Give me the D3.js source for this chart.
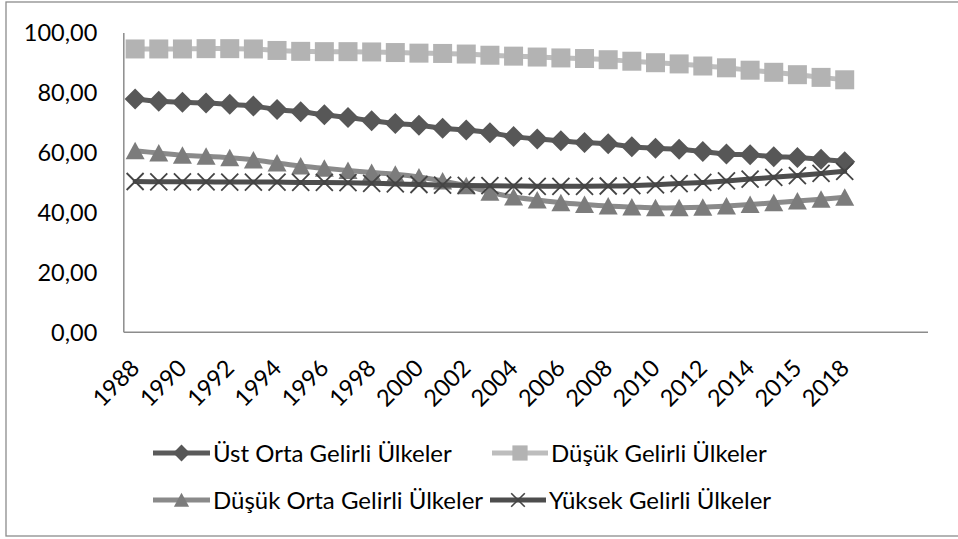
<!DOCTYPE html>
<html>
<head>
<meta charset="utf-8">
<script src="https://cdn.jsdelivr.net/npm/d3@7"></script>
<style>
  body { margin: 0; background: #fff; }
  text { font-family: Lato, "Open Sans", sans-serif; fill: #000; }
</style>
</head>
<body>
<svg id="grafik" width="958" height="539"></svg>
<script>
/* global d3 */
// yillar (grafikteki etiketler, 29. kategori kaynakta "2015" yazilmis)
var yillar = ["1988","1989","1990","1991","1992","1993","1994","1995","1996","1997",
              "1998","1999","2000","2001","2002","2003","2004","2005","2006","2007",
              "2008","2009","2010","2011","2012","2013","2014","2015","2015","2017","2018"];
// excel tablosundaki bos satirlar
var bosKategoriler = ["", "", ""];

var seriAdlari = ["Üst Orta Gelirli Ülkeler", "Düşük Gelirli Ülkeler",
                  "Düşük Orta Gelirli Ülkeler", "Yüksek Gelirli Ülkeler"];

var ustOrta = [77.8, 77.0, 76.7, 76.4, 76.0, 75.4, 74.3, 73.5, 72.5, 71.6,
               70.5, 69.6, 69.0, 68.0, 67.4, 66.5, 65.2, 64.4, 63.8, 63.2,
               62.8, 61.8, 61.3, 61.0, 60.2, 59.4, 59.1, 58.5, 58.2, 57.6, 56.8];
var dusuk = [94.5, 94.5, 94.5, 94.6, 94.6, 94.5, 94.0, 93.7, 93.6, 93.6,
             93.5, 93.3, 93.1, 93.0, 92.8, 92.4, 92.1, 91.8, 91.5, 91.3,
             90.9, 90.4, 89.9, 89.5, 88.8, 88.2, 87.4, 86.7, 85.9, 85.0, 84.2];
var dusukOrta = [60.5, 59.7, 59.0, 58.6, 58.1, 57.4, 56.4, 55.4, 54.6, 53.9,
                 53.2, 52.6, 51.7, 50.4, 48.8, 46.6, 45.0, 44.0, 43.1, 42.5,
                 42.0, 41.7, 41.4, 41.4, 41.6, 42.0, 42.5, 43.1, 43.7, 44.3, 44.9];
var yuksek = [50.2, 50.1, 50.1, 50.1, 50.0, 50.0, 50.0, 49.9, 49.9, 49.8,
              49.6, 49.4, 49.2, 49.0, 48.9, 48.8, 48.7, 48.6, 48.6, 48.6,
              48.7, 48.8, 49.1, 49.5, 49.9, 50.4, 51.0, 51.6, 52.2, 52.9, 53.6];

var yTikler = [0, 20, 40, 60, 80, 100];

var svg = d3.select("#grafik");

// dis cerceve
svg.append("rect")
  .attr("x", 6).attr("y", 2)
  .attr("width", 1000).attr("height", 534)
  .attr("fill", "none")
  .attr("stroke", "#8c8c8c")
  .attr("stroke-width", 1.3);

var sol = 123.3, sag = 927.5, ust = 32.5, alt = 331.7;

var kategoriler = yillar.concat(bosKategoriler);

var x = d3.scaleBand()
  .domain(d3.range(kategoriler.length))
  .range([sol, sag])
  .padding(0);
var y = d3.scaleLinear().domain([0, 100]).range([alt, ust]);

var trFormat = d3.formatLocale({decimal: ",", thousands: ".", grouping: [3], currency: ["", " TL"]}).format(".2f");

// y ekseni
var yEks = svg.append("g")
  .attr("transform", "translate(" + sol + ",0)")
  .call(d3.axisLeft(y).tickValues(yTikler).tickSize(0).tickPadding(26).tickFormat(trFormat));
yEks.select(".domain").attr("stroke", "#8c8c8c").attr("stroke-width", 1.5);
yEks.selectAll("text")
  .style("font-size", "23.5px")
  .attr("dy", "0.36em");

// x ekseni
var xEks = svg.append("g")
  .attr("transform", "translate(0," + alt + ")")
  .call(d3.axisBottom(x)
    .tickValues(d3.range(0, yillar.length, 2))
    .tickSize(0)
    .tickFormat(function(i) { return kategoriler[i]; }));
xEks.select(".domain").attr("stroke", "#8c8c8c").attr("stroke-width", 1.5);
xEks.selectAll("text")
  .style("font-size", "23.5px")
  .attr("text-anchor", "end")
  .attr("x", 0).attr("y", 0)
  .attr("dy", "0.35em")
  .attr("transform", "translate(0,32) rotate(-45)");

var cx = function(i) { return x(i) + x.bandwidth() / 2; };

var cizgi = d3.line()
  .x(function(d, i) { return cx(i); })
  .y(function(d) { return y(d); })
  .curve(d3.curveCatmullRom.alpha(0.5));

// isaretler
var isaretler = {
  elmas:  function(s) { return "M0," + (-10.5*s) + "L" + (10.5*s) + ",0L0," + (10.5*s) + "L" + (-10.5*s) + ",0Z"; },
  kare:   function(s) { return "M" + (-9.5*s) + "," + (-9.5*s) + "h" + (19*s) + "v" + (19*s) + "h" + (-19*s) + "Z"; },
  ucgen:  function(s) { return "M0," + (-9*s) + "L" + (9.5*s) + "," + (8.5*s) + "L" + (-9.5*s) + "," + (8.5*s) + "Z"; },
  carpi:  function(s) { return "M" + (-8.5*s) + "," + (-8.5*s) + "L" + (8.5*s) + "," + (8.5*s) + "M" + (8.5*s) + "," + (-8.5*s) + "L" + (-8.5*s) + "," + (8.5*s); }
};

var seriler = [
  {ad: seriAdlari[0], veri: ustOrta,   cizgiRenk: "#5a5a5a", isaret: "elmas", dolgu: "#575757", kontur: "none"},
  {ad: seriAdlari[1], veri: dusuk,     cizgiRenk: "#bdbdbd", isaret: "kare",  dolgu: "#b3b3b3", kontur: "none"},
  {ad: seriAdlari[2], veri: dusukOrta, cizgiRenk: "#8a8a8a", isaret: "ucgen", dolgu: "#7c7c7c", kontur: "none"},
  {ad: seriAdlari[3], veri: yuksek,    cizgiRenk: "#4d4d4d", isaret: "carpi", dolgu: "none",    kontur: "#444444"}
];

seriler.forEach(function(s) {
  var g = svg.append("g").attr("class", "seri");
  g.append("path")
    .attr("d", cizgi(s.veri))
    .attr("fill", "none")
    .attr("stroke", s.cizgiRenk)
    .attr("stroke-width", 5)
    .attr("stroke-linecap", "round");
  g.selectAll(".isaret")
    .data(s.veri)
    .enter().append("path")
    .attr("class", "isaret")
    .attr("transform", function(d, i) { return "translate(" + cx(i) + "," + y(d) + ")"; })
    .attr("d", isaretler[s.isaret](1))
    .attr("fill", s.dolgu)
    .attr("stroke", s.kontur)
    .attr("stroke-width", 1.8);
});

// lejant
var lejantYer = [
  {x: 153, y: 453, genislik: 57},
  {x: 492, y: 453, genislik: 56},
  {x: 153, y: 500, genislik: 57},
  {x: 490, y: 500, genislik: 56}
];

seriler.forEach(function(s, k) {
  var p = lejantYer[k];
  var g = svg.append("g").attr("transform", "translate(" + p.x + "," + p.y + ")");
  g.append("line")
    .attr("x1", 0).attr("x2", p.genislik)
    .attr("y1", 0).attr("y2", 0)
    .attr("stroke", s.cizgiRenk)
    .attr("stroke-width", 5);
  g.append("path")
    .attr("transform", "translate(" + (p.genislik / 2) + ",0)")
    .attr("d", isaretler[s.isaret](0.8))
    .attr("fill", s.dolgu)
    .attr("stroke", s.kontur)
    .attr("stroke-width", 1.6);
  g.append("text")
    .attr("x", p.genislik + 3)
    .attr("y", 0)
    .attr("dy", "0.36em")
    .style("font-size", "24px")
    .text(s.ad);
});
</script>
</body>
</html>
